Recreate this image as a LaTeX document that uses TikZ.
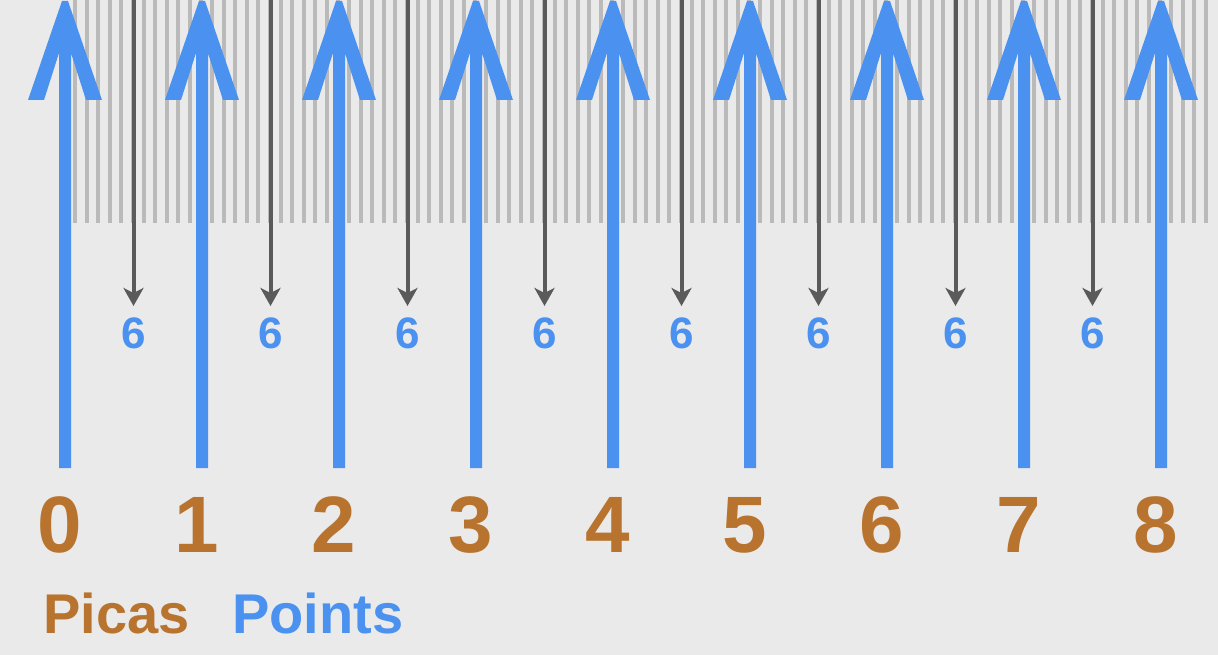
\documentclass[tikz,border=0pt]{standalone}
\usepackage{fontspec}
\setmainfont{Liberation Sans}
\usetikzlibrary{arrows.meta,calc}
\definecolor{bg}{RGB}{234,234,234}
\definecolor{tickc}{RGB}{186,186,186}
\definecolor{ablue}{RGB}{74,145,240}
\definecolor{dgray}{RGB}{90,90,90}
\definecolor{picaorange}{RGB}{184,116,46}
\tikzset{
  tick/.style={draw=tickc, line width=4pt},
  bluehead/.style={fill=ablue, draw=none},
  darkarrow/.style={draw=dgray, line width=4pt, -{Stealth[length=18pt,width=20pt,inset=5pt]}},
  sixlabel/.style={text=ablue, font=\bfseries\fontsize{44}{44}\selectfont, inner sep=0pt},
  picalabel/.style={text=picaorange, font=\bfseries\fontsize{80}{80}\selectfont, inner sep=0pt},
  legend/.style={font=\bfseries\fontsize{56}{56}\selectfont, inner sep=0pt, anchor=base west}
}
\begin{document}
\begin{tikzpicture}[x=1pt,y=-1pt]
\useasboundingbox (0,0) rectangle (1218,655);
\fill[bg] (0,0) rectangle (1218,655);
% ruler ticks
\foreach \k in {1,...,100} {
  \pgfmathsetmacro\tx{64+\k*137/12}
  \draw[tick] (\tx,0) -- (\tx,223);
}
% dark arrows (6 points)
\foreach \i in {0,...,7} {
  \pgfmathsetmacro\dx{65+68.5+137*\i}
  \coordinate (dtop\i) at (\dx,0);
  \coordinate (dbot\i) at (\dx,306);
  \draw[darkarrow] (dtop\i) -- (dbot\i);
  \node[sixlabel] (six\i) at (\dx,333) {6};
}
% blue arrows (picas)
\foreach \i in {0,...,8} {
  \pgfmathsetmacro\bx{65+137*\i}
  \fill[bluehead, shift={(\bx,0)}]
    (-3,1) -- (3,1) -- (37,100) -- (21,100) -- (6,53) -- (6,468)
    -- (-6,468) -- (-6,53) -- (-21,100) -- (-37,100) -- cycle;
  \node[picalabel] (num\i) at (\bx-5,525) {\i};
}
% legend
\node[legend, text=picaorange] (picas) at (43,633) {Picas};
\node[legend, text=ablue] (points) at (232,633) {Points};
\end{tikzpicture}
\end{document}
